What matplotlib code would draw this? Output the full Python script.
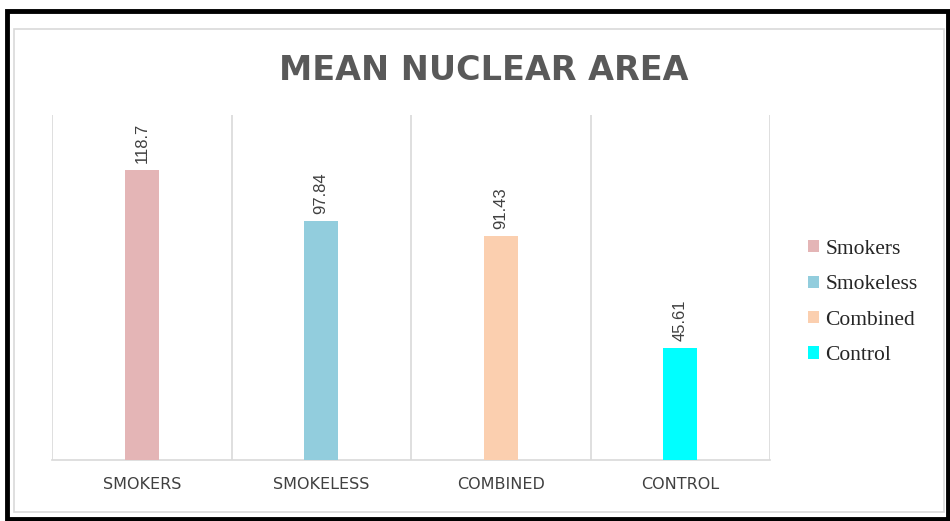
import matplotlib

matplotlib.use("Agg")
import matplotlib.pyplot as plt
from matplotlib.patches import Rectangle

categories = ["SMOKERS", "SMOKELESS", "COMBINED", "CONTROL"]
legend_names = ["Smokers", "Smokeless", "Combined", "Control"]
values = [118.7, 97.84, 91.43, 45.61]
value_labels = ["118.7", "97.84", "91.43", "45.61"]
colors = ["#e4b5b6", "#92cddd", "#fbcfaf", "#00ffff"]

W, H = 950, 521
fig = plt.figure(figsize=(W / 100, H / 100), dpi=100)

# outer black frame and inner light gray chart frame
fig.patches.append(Rectangle((7 / W, 2 / H), 941 / W, 508 / H, transform=fig.transFigure,
                             fill=False, edgecolor="black", linewidth=3.5))
fig.patches.append(Rectangle((14 / W, 9 / H), 930 / W, 483 / H, transform=fig.transFigure,
                             fill=False, edgecolor="#d9d9d9", linewidth=1.2))

ax = fig.add_axes([52 / W, (H - 460) / H, 718 / W, 345 / H])
x = range(len(categories))
bars = ax.bar(x, values, width=0.19, color=colors, label=legend_names, zorder=3)
ax.set_xlim(-0.5, len(categories) - 0.5)
ax.set_ylim(0, 141)

for b, lab in zip(bars, value_labels):
    ax.annotate(lab, (b.get_x() + b.get_width() / 2, b.get_height()), xytext=(0, 5),
                textcoords="offset points", rotation=90, ha="center", va="bottom",
                fontsize=12, color="#404040", family="Liberation Sans")

for xv in [-0.5, 0.5, 1.5, 2.5, 3.5]:
    ax.axvline(xv, color="#d9d9d9", linewidth=1.2, zorder=1)

ax.set_xticks(list(x))
ax.set_xticklabels(categories, fontsize=11.5, color="#404040", family="DejaVu Sans")
ax.tick_params(axis="x", length=0, pad=12)
ax.set_yticks([])
for side in ["top", "right", "left"]:
    ax.spines[side].set_visible(False)
ax.spines["bottom"].set_color("#d9d9d9")
ax.spines["bottom"].set_linewidth(1.2)

fig.text(484 / W, 1 - 70 / H, "MEAN NUCLEAR AREA", ha="center", va="center",
         fontsize=24, fontweight="bold", color="#595959", family="DejaVu Sans")

leg = fig.legend(handles=bars, labels=legend_names, loc="center left",
                 bbox_to_anchor=(789 / W, 1 - 302.5 / H), frameon=False,
                 prop={"family": "Liberation Serif", "size": 15.5}, labelcolor="#262626",
                 handlelength=0.5, handleheight=0.5, handletextpad=0.3, labelspacing=0.76)

fig.savefig("out.png", dpi=100)
